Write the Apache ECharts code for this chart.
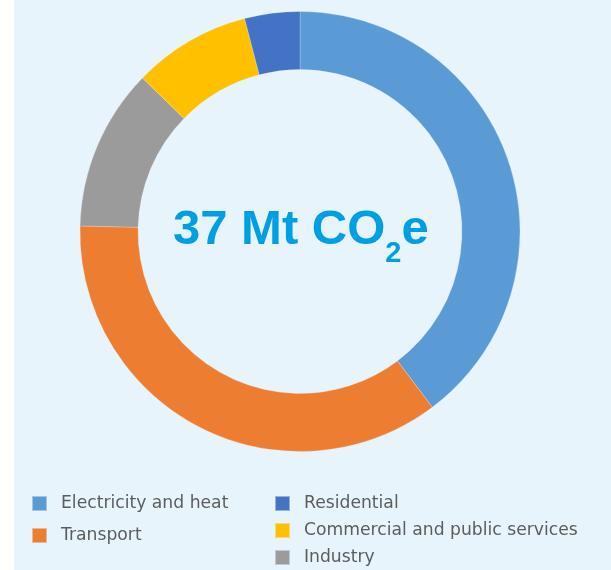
<!DOCTYPE html>
<html>
<head>
<meta charset="utf-8">
<script src="https://cdn.jsdelivr.net/npm/echarts@6/dist/echarts.min.js"></script>
<style>
  html, body { margin: 0; padding: 0; background: #fff; }
  #chart {
    width: 611px;
    height: 570px;
    background: linear-gradient(to right, #ffffff 14px, #e8f4fc 14px);
  }
</style>
</head>
<body>
<div id="chart"></div>
<script>
// sectors, clockwise from 12 o'clock (Mt CO2e)
const sectors = ['Electricity and heat', 'Transport', 'Industry', 'Commercial and public services', 'Residential']
const emissions = [14.7, 13.2, 4.4, 3.2, 1.5]
const colors = ['#5b9bd5', '#ed7d31', '#9b9b9b', '#ffc000', '#4472c4']

// legend columns as laid out under the chart
const legendLeft = ['Electricity and heat', 'Transport']
const legendRight = ['Residential', 'Commercial and public services', 'Industry']

const chart = echarts.init(document.getElementById('chart'))

const legendText = {
  fontFamily: 'DejaVu Sans',
  fontSize: 17.2,
  color: '#5c5c5c',
  lineHeight: 15,
  padding: [0, 0, 0, 9]
}

chart.setOption({
  animation: false,
  backgroundColor: 'transparent',
  color: colors,
  title: {
    text: '{a|37 Mt CO}{s|2}{a|e}',
    left: 173,
    top: 206,
    padding: 0,
    textStyle: {
      rich: {
        a: {
          fontFamily: 'Liberation Sans',
          fontWeight: 'bold',
          fontSize: 49,
          lineHeight: 50,
          color: '#009fe3',
          verticalAlign: 'top'
        },
        s: {
          fontFamily: 'Liberation Sans',
          fontWeight: 'bold',
          fontSize: 29,
          lineHeight: 62,
          color: '#009fe3',
          verticalAlign: 'bottom'
        }
      }
    }
  },
  legend: [
    {
      data: legendLeft,
      orient: 'vertical',
      left: 31,
      top: 495,
      padding: 0,
      icon: 'rect',
      itemWidth: 15,
      itemHeight: 15,
      itemGap: 15,
      selectedMode: false,
      textStyle: legendText
    },
    {
      data: legendRight,
      orient: 'vertical',
      left: 274,
      top: 495,
      padding: 0,
      icon: 'rect',
      itemWidth: 15,
      itemHeight: 15,
      itemGap: 10,
      selectedMode: false,
      textStyle: legendText
    }
  ],
  series: [
    {
      type: 'pie',
      center: [300, 231.5],
      radius: [162, 220],
      startAngle: 90,
      clockwise: true,
      silent: true,
      label: { show: false },
      labelLine: { show: false },
      itemStyle: {
        borderColor: 'rgba(232,244,252,0.5)',
        borderWidth: 0.5
      },
      data: sectors.map((name, i) => ({ name: name, value: emissions[i] }))
    }
  ]
})
</script>
</body>
</html>
